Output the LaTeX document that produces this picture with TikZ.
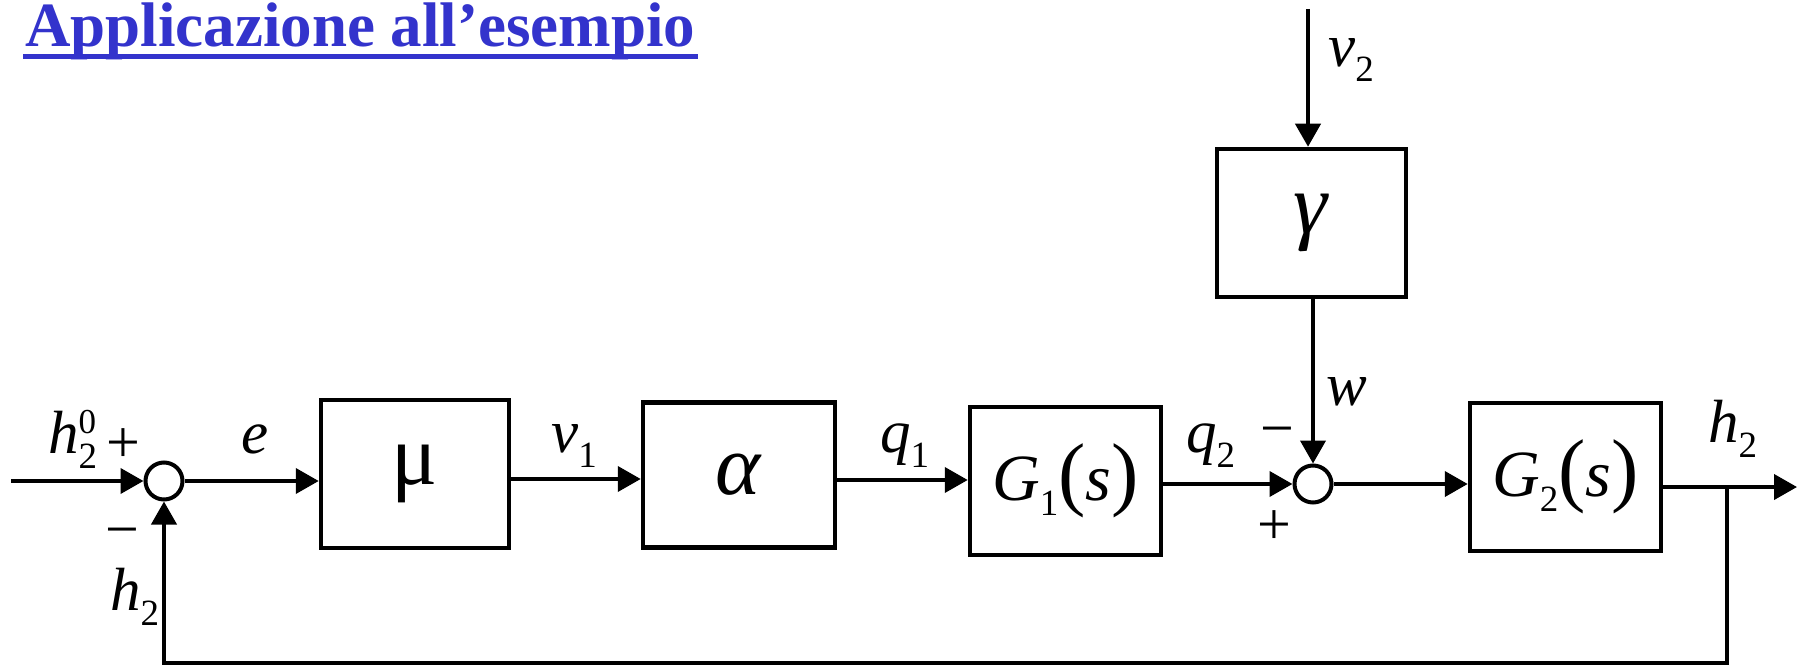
\documentclass[tikz,border=0pt]{standalone}
\usepackage{fontspec}
\setmainfont{Liberation Serif}
\usetikzlibrary{arrows.meta,calc}
\definecolor{titleblue}{RGB}{51,51,204}
\newcommand{\sbs}[1]{\raisebox{-15pt}{\fontsize{37}{37}\selectfont #1}}
\newcommand{\sps}[1]{\raisebox{20pt}{\fontsize{35}{35}\selectfont #1}}
\newcommand{\bigpar}[1]{{\fontsize{82}{82}\selectfont #1}}
\begin{document}
\begin{tikzpicture}[x=1pt,y=-1pt,
  blk/.style={draw,line width=4.5pt,inner sep=0pt},
  sumnode/.style={draw,circle,line width=4pt,minimum size=37pt,inner sep=0pt},
  sig/.style={line width=4pt,-{Triangle[length=23pt,width=25pt]}},
  lbl/.style={inner sep=0pt,anchor=base west,font=\fontsize{61}{64}\selectfont},
  sgn/.style={inner sep=0pt,anchor=base,font=\fontsize{60}{64}\selectfont},
  greek/.style={font=\fontsize{86}{88}\selectfont},
  gtf/.style={font=\fontsize{66}{70}\selectfont}]
\useasboundingbox (0,0) rectangle (1798,666);

% title
\node[anchor=base west,inner sep=0pt,text=titleblue,
      font=\fontsize{63}{70}\selectfont\bfseries] (title) at (25,47) {Applicazione all’esempio};
\draw[titleblue,line width=5pt] ($(title.base west)+(-2,10)$) -- ($(title.base east)+(2,10)$);

% blocks
\node[blk,minimum width=188pt,minimum height=148pt,greek] (mu) at (415,474) {μ};
\node[blk,minimum width=192pt,minimum height=145pt,greek] (alpha) at (739,475) {\textit{α}};
\node[blk,minimum width=191pt,minimum height=148pt,gtf] (G1) at (1065.5,481)
  {\textit{G}\sbs{1}\bigpar{(}\textit{s}\bigpar{)}};
\node[blk,minimum width=191pt,minimum height=148pt,gtf] (G2) at (1565.5,477)
  {\textit{G}\sbs{2}\bigpar{(}\textit{s}\bigpar{)}};
\node[blk,minimum width=189pt,minimum height=148pt,greek] (gamma) at (1311.5,223) {\textit{γ}};

% summing junctions
\node[sumnode] (s1) at (164,481) {};
\node[sumnode] (s2) at (1313,484) {};

% helper coordinates
\coordinate (in) at (11,481);
\coordinate (yv1) at (0,479);
\coordinate (yq1) at (0,480);
\coordinate (yout) at (0,487);
\coordinate (br) at (1727,487);
\coordinate (out) at (1797,487);
\coordinate (fb) at (1727,663);
\coordinate (v2in) at (1308,9);

% connectors
\draw[sig] (in) -- (s1.west);
\draw[sig] (s1.east) -- (s1 -| mu.west);
\draw[sig] (mu.east |- yv1) -- (alpha.west |- yv1);
\draw[sig] (alpha.east |- yq1) -- (G1.west |- yq1);
\draw[sig] (G1.east |- s2) -- (s2.west);
\draw[sig] (s2.east) -- (s2 -| G2.west);
\draw[sig] (G2.east |- yout) -- (out);
\draw[sig] (br) -- (fb) -| (s1.south);
\draw[sig] (v2in) -- (v2in |- gamma.north);
\draw[sig] (gamma.south -| s2) -- (s2.north);

% labels
\node[lbl] (lh20) at (48,453) {\textit{h}\rlap{\sbs{2}}\sps{0}};
\node[sgn] (p1) at (123,462) {+};
\node[sgn] (m1) at (122,549) {−};
\node[lbl] (lh2fb) at (110,610) {\textit{h}\sbs{2}};
\node[lbl] (le) at (241,453) {\textit{e}};
\node[lbl] (lv1) at (551,452) {\textit{v}\sbs{1}};
\node[lbl] (lq1) at (880,452) {\textit{q}\sbs{1}};
\node[lbl] (lq2) at (1186,452) {\textit{q}\sbs{2}};
\node[sgn] (m2) at (1277,448) {−};
\node[sgn] (p2) at (1274,544) {+};
\node[lbl] (lw) at (1326,405) {\textit{w}};
\node[lbl] (lv2) at (1328,67) {\textit{v}\sbs{2}};
\node[lbl] (lh2) at (1708,442) {\textit{h}\sbs{2}};
\end{tikzpicture}
\end{document}
